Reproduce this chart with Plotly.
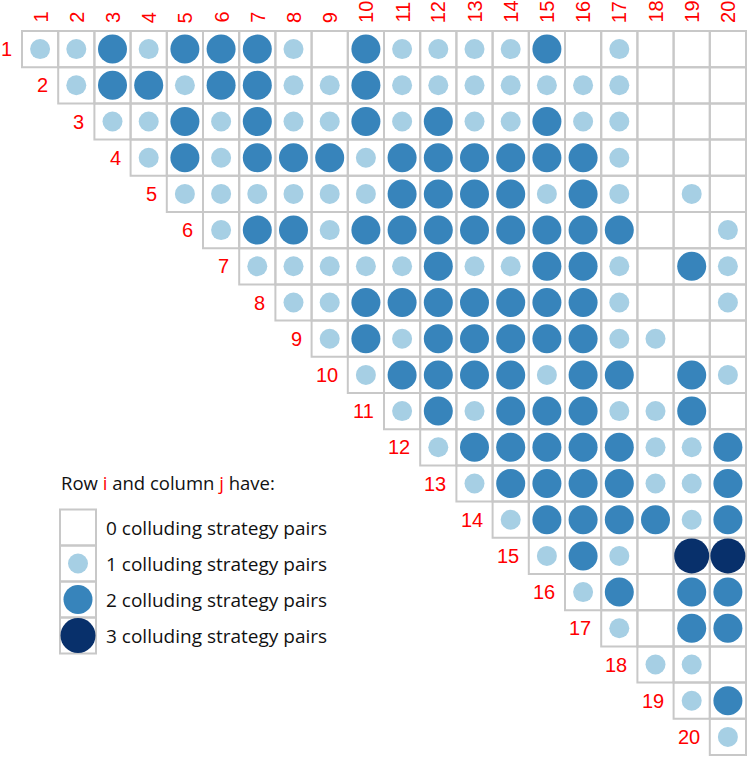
import plotly.graph_objects as go

# number of strategies (rows and columns)
n = 20
tick_labels = [str(k) for k in range(1, n + 1)]

# colluding strategy pairs, row i, columns i..20 (upper triangle incl. diagonal)
row_1 = [1, 1, 2, 1, 2, 2, 2, 1, 0, 2, 1, 1, 1, 1, 2, 0, 1, 0, 0, 0]
row_2 = [1, 2, 2, 1, 2, 2, 1, 1, 2, 1, 1, 1, 1, 1, 1, 1, 0, 0, 0]
row_3 = [1, 1, 2, 1, 2, 1, 1, 2, 1, 2, 1, 1, 2, 1, 1, 0, 0, 0]
row_4 = [1, 2, 1, 2, 2, 2, 1, 2, 2, 2, 2, 2, 2, 1, 0, 0, 0]
row_5 = [1, 1, 1, 1, 1, 1, 2, 2, 2, 2, 1, 2, 1, 0, 1, 0]
row_6 = [1, 2, 2, 1, 2, 2, 2, 2, 2, 2, 2, 2, 0, 0, 1]
row_7 = [1, 1, 1, 1, 1, 2, 1, 1, 2, 2, 1, 0, 2, 1]
row_8 = [1, 1, 2, 2, 2, 2, 2, 2, 2, 1, 0, 0, 1]
row_9 = [1, 2, 1, 2, 2, 2, 2, 2, 1, 1, 0, 0]
row_10 = [1, 2, 2, 2, 2, 1, 2, 2, 0, 2, 1]
row_11 = [1, 2, 1, 2, 2, 2, 1, 1, 2, 0]
row_12 = [1, 2, 2, 2, 2, 2, 1, 1, 2]
row_13 = [1, 2, 2, 2, 2, 1, 1, 2]
row_14 = [1, 2, 2, 2, 2, 1, 2]
row_15 = [1, 2, 1, 0, 3, 3]
row_16 = [1, 2, 0, 2, 2]
row_17 = [1, 0, 2, 2]
row_18 = [1, 1, 0]
row_19 = [1, 2]
row_20 = [1]

rows = [row_1, row_2, row_3, row_4, row_5, row_6, row_7, row_8, row_9, row_10,
        row_11, row_12, row_13, row_14, row_15, row_16, row_17, row_18, row_19, row_20]

# legend entries
legend_values = [0, 1, 2, 3]
legend_labels = ["0 colluding strategy pairs", "1 colluding strategy pairs",
                 "2 colluding strategy pairs", "3 colluding strategy pairs"]

# marker styling per level
level_colors = {1: "#a6cfe4", 2: "#3784bb", 3: "#08306b"}
level_sizes = {1: 20, 2: 29, 3: 35}

W, H = 748, 757
CELL = 36.2      # pixels per grid unit
LEFT, TOP = 22, 31
GRID = "#c8c8c8"
RED = "#ff0000"
LABEL_FONT = "Liberation Sans, Arial, sans-serif"
TEXT_FONT = "Open Sans, sans-serif"


def px_x(p):
    return (p - LEFT) / CELL + 0.5


def px_y(p):
    return (p - TOP) / CELL + 0.5


fig = go.Figure()
shapes = []
annotations = []

# grid cells of the upper triangle
for i in range(1, n + 1):
    for j in range(i, n + 1):
        shapes.append(dict(type="rect", xref="x", yref="y",
                           x0=j - 0.5, x1=j + 0.5, y0=i - 0.5, y1=i + 0.5,
                           line=dict(color=GRID, width=2), layer="below"))

# circles per level
for level in (1, 2, 3):
    xs, ys = [], []
    for i, vals in enumerate(rows, start=1):
        for k, v in enumerate(vals):
            if v == level:
                xs.append(i + k)
                ys.append(i)
    fig.add_trace(go.Scatter(
        x=xs, y=ys, mode="markers", showlegend=False, hoverinfo="skip",
        marker=dict(size=level_sizes[level], color=level_colors[level],
                    line=dict(width=0))))

# column labels
for j, lab in enumerate(tick_labels, start=1):
    annotations.append(dict(x=j, y=0.5, xref="x", yref="y", text=lab,
                            textangle=-90, showarrow=False, yanchor="bottom",
                            yshift=6, font=dict(color=RED, size=20, family=LABEL_FONT)))

# row labels
for i, lab in enumerate(tick_labels, start=1):
    annotations.append(dict(x=i - 0.5, y=i, xref="x", yref="y", text=lab,
                            showarrow=False, xanchor="right", xshift=-8,
                            font=dict(color=RED, size=20, family=LABEL_FONT)))

# legend
leg_x = px_x(78)
leg_y0 = px_y(527.5)
box = 36 / CELL
annotations.append(dict(
    x=px_x(59), y=px_y(482), xref="x", yref="y", xanchor="left", showarrow=False,
    text="Row <span style='color:red'>i</span> and column <span style='color:red'>j</span> have:",
    font=dict(color="#111111", size=18.5, family=TEXT_FONT)))
for k, (val, lab) in enumerate(zip(legend_values, legend_labels)):
    yc = leg_y0 + k * box
    shapes.append(dict(type="rect", xref="x", yref="y",
                       x0=leg_x - box / 2, x1=leg_x + box / 2,
                       y0=yc - box / 2, y1=yc + box / 2,
                       line=dict(color=GRID, width=2), layer="below"))
    annotations.append(dict(x=px_x(104), y=yc, xref="x", yref="y", xanchor="left",
                            showarrow=False, text=lab,
                            font=dict(color="#111111", size=19, family=TEXT_FONT)))
    if val > 0:
        fig.add_trace(go.Scatter(
            x=[leg_x], y=[yc], mode="markers", showlegend=False, hoverinfo="skip",
            marker=dict(size=level_sizes[val], color=level_colors[val],
                        line=dict(width=0))))

fig.update_layout(
    width=W, height=H,
    margin=dict(l=0, r=0, t=0, b=0),
    paper_bgcolor="white", plot_bgcolor="white",
    shapes=shapes, annotations=annotations,
    xaxis=dict(range=[px_x(0), px_x(W)], visible=False, fixedrange=True),
    yaxis=dict(range=[px_y(H), px_y(0)], visible=False, fixedrange=True),
)

# drop the default page margin so the figure sits at the window origin
fig.write_html("out.html", config={"displayModeBar": False},
               post_script="document.body.style.margin='0';")
